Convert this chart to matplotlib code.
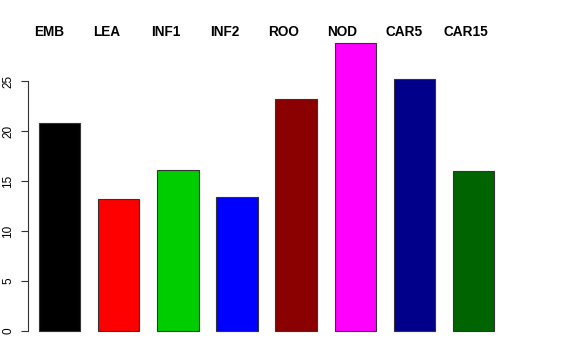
import matplotlib
matplotlib.use("Agg")
import matplotlib.pyplot as plt

categories = ["EMB", "LEA", "INF1", "INF2", "ROO", "NOD", "CAR5", "CAR15"]
values = [20.75, 13.2, 16.1, 13.4, 23.2, 28.8, 25.2, 16.0]
colors = ["#000000", "#ff0000", "#00cd00", "#0000ff", "#8b0000", "#ff00ff", "#00008b", "#006400"]
yticks = [0, 5, 10, 15, 20, 25]

W, H = 576, 360
fig = plt.figure(figsize=(W / 100, H / 100), dpi=100)
plt.rcParams['font.family'] = ['Liberation Sans', 'DejaVu Sans']

# pixel geometry
ax_left, ax_right = 28, 510
y0_px, per_unit = 331, 10.0
ylim = (-1.15, 29.95)
ax_bottom = y0_px + (0 - ylim[0]) * per_unit
ax_top = y0_px - ylim[1] * per_unit
ax = fig.add_axes([ax_left / W, 1 - ax_bottom / H, (ax_right - ax_left) / W, (ax_bottom - ax_top) / H])

x = list(range(len(categories)))
bw = 0.70
ax.bar(x, values, width=bw, color=colors, edgecolor="#333333", linewidth=0.8)

# x scale: first bar left at 39 px, 59.1 px per unit
px_per_x = 59.1
xl = -bw / 2 - (39 - ax_left) / px_per_x
xr = xl + (ax_right - ax_left) / px_per_x
ax.set_xlim(xl, xr)
ax.set_ylim(*ylim)

for s in ["top", "right", "bottom"]:
    ax.spines[s].set_visible(False)
ax.spines["left"].set_bounds(yticks[0], yticks[-1])
ax.spines["left"].set_color("#333333")
ax.set_xticks([])
ax.set_yticks(yticks)
ax.set_yticklabels([str(t) for t in yticks], rotation=90, va="center", fontsize=8.5)
ax.tick_params(axis="y", length=5, width=0.8, color="#333333", pad=5)

for xi, lab in zip(x, categories):
    ax.text(xi - bw / 2 - 0.08 - 0.01 * xi, 29.2, lab, ha="left", va="bottom",
            fontsize=9.8, fontweight="bold", transform=ax.transData)

fig.savefig("out.png", dpi=100)
